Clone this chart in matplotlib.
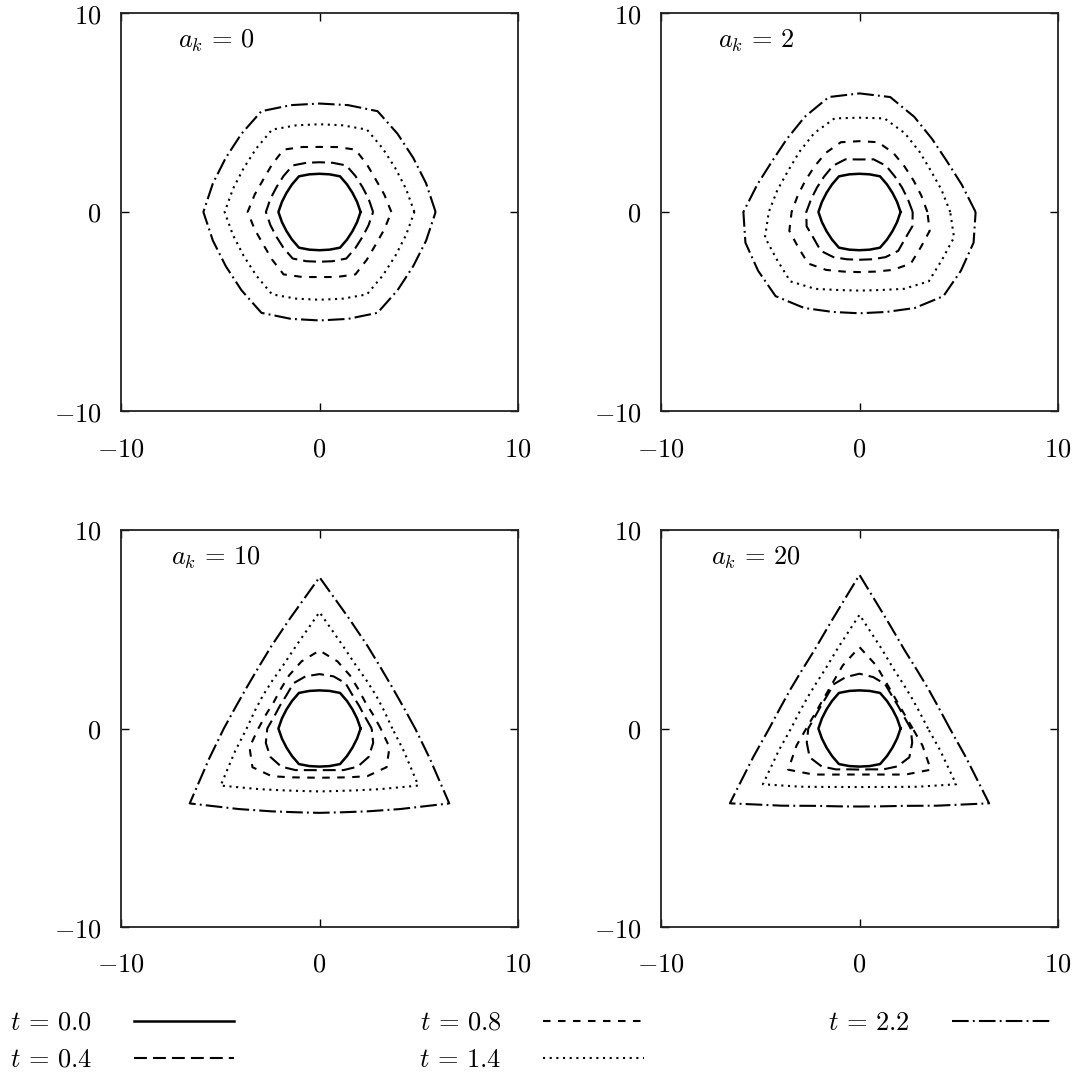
import numpy as np
import matplotlib.pyplot as plt
from matplotlib.lines import Line2D

plt.rcParams['mathtext.fontset'] = 'cm'
plt.rcParams['font.family'] = ['DejaVu Serif', 'DejaVu Sans']

# front radius sampled every 15 degrees, starting at the +x direction
ANGLES = list(range(0, 360, 15))
TIMES = [0.0, 0.4, 0.8, 1.4, 2.2]
AK_VALUES = [0, 2, 10, 20]
TICKS = [-10, 0, 10]
TICK_LABELS = [r'$-10$', r'$0$', r'$10$']

# initial front (t = 0), identical in every panel
R_INITIAL = [2.07, 1.96, 1.92, 1.96, 2.07, 1.96, 1.92, 1.96, 2.07, 1.96, 1.92, 1.96,
             2.07, 1.96, 1.92, 1.96, 2.07, 1.96, 1.92, 1.96, 2.07, 1.96, 1.92, 1.96]

R_AK0 = [
    R_INITIAL,
    [2.70, 2.56, 2.50, 2.56, 2.70, 2.56, 2.50, 2.56, 2.70, 2.56, 2.50, 2.56,
     2.70, 2.56, 2.50, 2.56, 2.70, 2.56, 2.50, 2.56, 2.70, 2.56, 2.50, 2.56],
    [3.62, 3.38, 3.27, 3.38, 3.62, 3.38, 3.27, 3.38, 3.62, 3.38, 3.27, 3.38,
     3.62, 3.38, 3.27, 3.38, 3.62, 3.38, 3.27, 3.38, 3.62, 3.38, 3.27, 3.38],
    [4.78, 4.51, 4.41, 4.51, 4.78, 4.51, 4.41, 4.51, 4.78, 4.51, 4.41, 4.51,
     4.78, 4.51, 4.41, 4.51, 4.78, 4.51, 4.41, 4.51, 4.78, 4.51, 4.41, 4.51],
    [5.85, 5.56, 5.45, 5.56, 5.85, 5.56, 5.45, 5.56, 5.85, 5.56, 5.45, 5.56,
     5.85, 5.56, 5.45, 5.56, 5.85, 5.56, 5.45, 5.56, 5.85, 5.56, 5.45, 5.56],
]

R_AK2 = [
    R_INITIAL,
    [2.68, 2.52, 2.47, 2.52, 2.68, 2.74, 2.64, 2.74, 2.68, 2.52, 2.47, 2.52,
     2.68, 2.76, 2.66, 2.76, 2.62, 2.46, 2.40, 2.46, 2.62, 2.76, 2.66, 2.76],
    [3.42, 3.22, 3.15, 3.22, 3.42, 3.63, 3.56, 3.63, 3.42, 3.22, 3.15, 3.22,
     3.42, 3.66, 3.56, 3.66, 3.36, 3.10, 3.02, 3.10, 3.36, 3.66, 3.56, 3.66],
    [4.57, 4.28, 4.15, 4.28, 4.57, 4.87, 4.74, 4.87, 4.57, 4.28, 4.15, 4.28,
     4.57, 4.93, 4.80, 4.93, 4.46, 4.06, 3.95, 4.06, 4.46, 4.93, 4.80, 4.93],
    [5.85, 5.33, 5.09, 5.18, 5.52, 5.98, 5.96, 5.98, 5.52, 5.18, 5.09, 5.33,
     5.85, 5.95, 5.90, 5.98, 5.57, 5.20, 5.09, 5.20, 5.57, 5.98, 5.90, 5.95],
]

R_AK10 = [
    R_INITIAL,
    [2.63, 2.36, 2.30, 2.36, 2.63, 2.72, 2.74, 2.72, 2.63, 2.36, 2.30, 2.36,
     2.63, 2.80, 2.86, 2.72, 2.42, 2.17, 2.10, 2.17, 2.42, 2.72, 2.86, 2.80],
    [3.08, 2.78, 2.66, 2.78, 3.08, 3.50, 3.93, 3.50, 3.08, 2.78, 2.66, 2.78,
     3.08, 3.65, 3.90, 3.40, 2.84, 2.56, 2.48, 2.56, 2.84, 3.40, 3.90, 3.65],
    [3.67, 3.38, 3.30, 3.38, 3.67, 4.38, 5.86, 4.38, 3.67, 3.38, 3.30, 3.38,
     3.67, 4.40, 5.75, 4.32, 3.60, 3.26, 3.17, 3.26, 3.60, 4.32, 5.75, 4.40],
    [4.82, 4.35, 4.21, 4.35, 4.82, 5.74, 7.62, 5.74, 4.82, 4.35, 4.21, 4.35,
     4.82, 5.74, 7.55, 5.74, 4.82, 4.37, 4.25, 4.37, 4.82, 5.74, 7.55, 5.74],
]

R_AK20 = [
    R_INITIAL,
    [2.58, 2.32, 2.25, 2.32, 2.58, 2.68, 2.76, 2.68, 2.58, 2.32, 2.25, 2.32,
     2.58, 2.75, 2.90, 2.70, 2.38, 2.13, 2.07, 2.13, 2.38, 2.70, 2.90, 2.75],
    [2.68, 2.40, 2.32, 2.40, 2.68, 3.28, 4.10, 3.28, 2.68, 2.40, 2.32, 2.40,
     2.68, 3.28, 4.15, 3.28, 2.68, 2.40, 2.32, 2.40, 2.68, 3.28, 4.15, 3.28],
    [3.45, 3.14, 3.05, 3.14, 3.45, 4.20, 5.73, 4.20, 3.45, 3.14, 3.05, 3.14,
     3.45, 4.20, 5.62, 4.15, 3.40, 3.05, 2.95, 3.05, 3.40, 4.15, 5.62, 4.20],
    [4.55, 4.12, 4.00, 4.12, 4.55, 5.56, 7.74, 5.56, 4.55, 4.12, 4.00, 4.12,
     4.55, 5.54, 7.54, 5.50, 4.50, 4.06, 3.93, 4.06, 4.50, 5.50, 7.54, 5.54],
]

PANELS = [R_AK0, R_AK2, R_AK10, R_AK20]

# line style per time level (dash lengths in units of line width)
STYLES = {
    0.0: dict(ls='-', lw=1.8),
    0.4: dict(ls=(0, (6.2, 2.9)), lw=1.5),
    0.8: dict(ls=(0, (3.6, 3.6)), lw=1.5),
    1.4: dict(ls=(0, (1.0, 2.2)), lw=1.5),
    2.2: dict(ls=(0, (8.0, 2.0, 0.9, 2.0)), lw=1.5),
}

FS = 19
W, H = 1078, 1074
fig = plt.figure(figsize=(W / 100, H / 100), dpi=100)


def px_box(left, top, right, bottom):
    return [left / W, 1 - bottom / H, (right - left) / W, (bottom - top) / H]


boxes = [(121, 13, 518, 411), (661, 13, 1058, 411),
         (121, 530, 518, 927), (661, 530, 1058, 927)]

theta = np.deg2rad(ANGLES + [ANGLES[0]])

for box, ak, fronts in zip(boxes, AK_VALUES, PANELS):
    ax = fig.add_axes(px_box(*box))
    for t, r in zip(TIMES, fronts):
        rr = np.array(r + [r[0]])
        st = STYLES[t]
        ax.plot(rr * np.cos(theta), rr * np.sin(theta), color='black',
                linestyle=st['ls'], linewidth=st['lw'])
    ax.set_xlim(-10, 10)
    ax.set_ylim(-10, 10)
    ax.set_xticks(TICKS)
    ax.set_yticks(TICKS)
    ax.set_xticklabels(TICK_LABELS)
    ax.set_yticklabels(TICK_LABELS)
    ax.tick_params(direction='in', length=6, width=1.0, top=True, right=True,
                   labelsize=FS)
    ax.tick_params(axis='x', pad=18)
    ax.tick_params(axis='y', pad=14)
    for sp in ax.spines.values():
        sp.set_linewidth(1.3)
        sp.set_color('#222222')
    ax.text(-5.2, 8.6, r'$a_k\,=\,%d$' % ak, ha='center', va='center', fontsize=FS)

handles = [Line2D([], [], color='black', linestyle=STYLES[t]['ls'],
                  linewidth=STYLES[t]['lw']) for t in TIMES]
labels = [r'$t\,=\,%.1f$' % t for t in TIMES]
fig.legend(handles, labels, ncol=3, loc='upper left',
           bbox_to_anchor=(10 / W, 1 - 1010 / H), frameon=False,
           markerfirst=False, fontsize=FS, handlelength=3.8,
           handletextpad=1.6, columnspacing=7.0, labelspacing=0.45,
           borderpad=0, borderaxespad=0)

fig.savefig('out.png', dpi=100)
